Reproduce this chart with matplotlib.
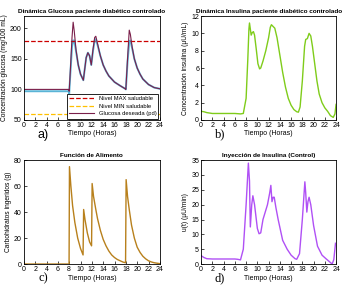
import matplotlib
matplotlib.use("Agg")
import matplotlib.pyplot as plt

plt.rcParams['font.family'] = 'Liberation Sans'

# tiempo y glucosa deseada (pd)
t_glu = [0, 7.9, 8.0, 8.2, 8.5, 8.7, 8.9, 9.2, 9.6, 10.0, 10.5, 10.7, 11.0, 11.3, 11.6,
         11.9, 12.2, 12.5, 12.7, 13.0, 13.5, 14, 14.5, 15, 16, 17, 17.9, 18.0, 18.3,
         18.6, 18.8, 19.1, 19.5, 20, 20.5, 21, 22, 23, 24]
glu_pd = [100, 100, 97, 130, 185, 210, 195, 165, 140, 125, 115, 130, 152, 160, 155,
          140, 165, 185, 187, 175, 155, 140, 130, 122, 112, 106, 101, 100, 150,
          197, 190, 170, 150, 135, 125, 117, 108, 103, 101]
glu_real = [97, 97, 93, 125, 170, 180, 180, 163, 140, 125, 115, 130, 152, 160, 155,
            140, 163, 180, 182, 173, 155, 140, 130, 122, 112, 106, 101, 100, 145,
            178, 180, 168, 150, 135, 125, 117, 108, 103, 101]
nivel_max = 180
nivel_min = 60

t_ins = [0, 0.5, 1, 2, 3, 4, 5, 6, 7, 7.5, 8.0, 8.3, 8.5, 8.6, 8.75, 8.9, 9.1, 9.3,
         9.5, 9.8, 10.1, 10.4, 10.6, 11, 11.5, 12, 12.3, 12.5, 12.8, 13.1, 13.5, 14,
         14.5, 15, 15.5, 16, 16.5, 17, 17.3, 17.6, 18, 18.4, 18.6, 18.9, 19.2, 19.5,
         19.8, 20.2, 20.6, 21, 21.5, 22, 22.5, 23, 23.5, 23.8, 24]
insulina = [1.0, 0.95, 0.85, 0.75, 0.75, 0.75, 0.75, 0.75, 0.7, 0.75, 2.5, 7, 10.5,
            11.2, 10.5, 9.8, 10.1, 10.2, 9.8, 8.2, 6.5, 5.9, 6.0, 6.8, 8, 9.5, 10.7,
            11.0, 10.8, 10.6, 9.5, 7.5, 5.5, 3.8, 2.5, 1.7, 1.2, 0.95, 0.9, 1.5, 4.5,
            8.5, 9.3, 9.4, 10.0, 9.7, 8.5, 6.5, 4.5, 3.0, 2.0, 1.4, 1.0, 0.5, 0.3,
            0.7, 1.8]

t_ali = [0, 7.98, 8.05, 8.3, 8.6, 9.0, 9.5, 10.0, 10.45, 10.55, 10.8, 11.2, 11.6,
         11.95, 12.05, 12.3, 12.7, 13, 13.5, 14, 14.5, 15, 15.5, 16, 16.5, 17, 17.5,
         17.95, 18.05, 18.3, 18.6, 19, 19.5, 20, 20.5, 21, 21.5, 22, 22.5, 23, 24]
alimento = [0, 0, 75, 60, 45, 32, 20, 12, 7, 42, 34, 24, 17, 14, 62, 52, 42, 35, 26,
            19, 14, 10, 7, 5, 3.5, 2.5, 1.5, 1, 65, 52, 42, 30, 20, 13, 9, 6, 4, 2.5,
            1.6, 1, 0.3]

t_u = [0, 0.5, 1, 2, 4, 6, 6.5, 7.0, 7.5, 8.0, 8.4, 8.6, 8.75, 9.0, 9.2, 9.5, 10.0,
       10.3, 10.6, 11.0, 11.8, 12.2, 12.4, 12.6, 12.8, 13.0, 13.3, 13.7, 14.5, 15.3,
       16, 16.7, 17.0, 17.5, 18.0, 18.45, 18.6, 18.8, 19.0, 19.2, 19.5, 20, 20.7,
       21.5, 22.2, 23, 23.3, 23.6, 23.9]
u_ins = [2.8, 2.2, 1.8, 1.7, 1.7, 1.7, 1.6, 1.4, 5, 20, 34, 28, 12.5, 20, 23, 20,
         12, 10.2, 10.5, 15, 20, 24, 26.5, 21, 22.5, 22.5, 19, 15, 8, 5, 3, 1.8, 1.6,
         3.5, 15, 27.7, 24, 17.5, 21, 22.5, 20, 13, 6, 3, 1.8, 0.5, 0, 1.5, 7]

ticks = list(range(0, 25, 2))

fig = plt.figure(figsize=(3.56, 2.87), dpi=100)
pos = {'a': [0.067, 0.582, 0.382, 0.362], 'b': [0.565, 0.582, 0.379, 0.362],
       'c': [0.067, 0.080, 0.382, 0.362], 'd': [0.565, 0.080, 0.379, 0.362]}


def estilo(ax, titulo, ylab, letra, fam='Liberation Serif'):
    ax.set_xlim(0, 24)
    ax.set_xticks(ticks)
    ax.tick_params(direction='in', labelsize=5, length=2, width=0.5, pad=1.5)
    for s in ax.spines.values():
        s.set_linewidth(0.6)
    ax.set_title(titulo, fontsize=4.6, fontweight='bold', pad=2)
    ax.set_ylabel(ylab, fontsize=4.8, labelpad=1.5)
    ax.set_xlabel('Tiempo (Horas)', fontsize=5, labelpad=1)
    ax.text(0.14, -0.14, letra, transform=ax.transAxes, fontsize=9,
            family=fam, ha='center', va='center')


ax = fig.add_axes(pos['a'])
ax.plot(t_glu, glu_real, color='#5ab4d6', lw=1.4)
l1, = ax.plot([0, 24], [nivel_max, nivel_max], '--', color='#cc0000', lw=0.9)
l2, = ax.plot([0, 24], [nivel_min, nivel_min], '--', color='#ffc000', lw=0.9)
l3, = ax.plot(t_glu, glu_pd, color='#7a1f4a', lw=0.8)
ax.set_ylim(50, 220)
ax.set_yticks([50, 100, 150, 200])
ax.legend([l1, l2, l3], ['Nivel MAX saludable', 'Nivel MIN saludable',
                         'Glucosa deseada (pd)'],
          loc='lower right', fontsize=4.2, fancybox=False, framealpha=1,
          edgecolor='black', borderpad=0.35, handlelength=4.2, labelspacing=0.45,
          borderaxespad=0.25).get_frame().set_linewidth(0.6)
estilo(ax, 'Dinámica Glucosa paciente diabético controlado',
       'Concentración glucosa (mg/100 mL)', 'a)', 'Liberation Sans')

ax = fig.add_axes(pos['b'])
ax.plot(t_ins, insulina, color='#7fcc1a', lw=1.0)
ax.set_ylim(0, 12)
ax.set_yticks(range(0, 13, 2))
estilo(ax, 'Dinámica Insulina paciente diabético controlado',
       'Concentración insulina (µU/mL)', 'b)')

ax = fig.add_axes(pos['c'])
ax.plot(t_ali, alimento, color='#b8801c', lw=1.0)
ax.set_ylim(0, 80)
ax.set_yticks(range(0, 81, 20))
estilo(ax, 'Función de Alimento', 'Carbohidratos ingeridos (g)', 'c)')

ax = fig.add_axes(pos['d'])
ax.plot(t_u, u_ins, color='#b050f5', lw=1.0)
ax.set_ylim(0, 35)
ax.set_yticks(range(0, 36, 5))
estilo(ax, 'Inyección de Insulina (Control)', 'u(t) (µU/min)', 'd)')

fig.savefig('out.png', dpi=100)
